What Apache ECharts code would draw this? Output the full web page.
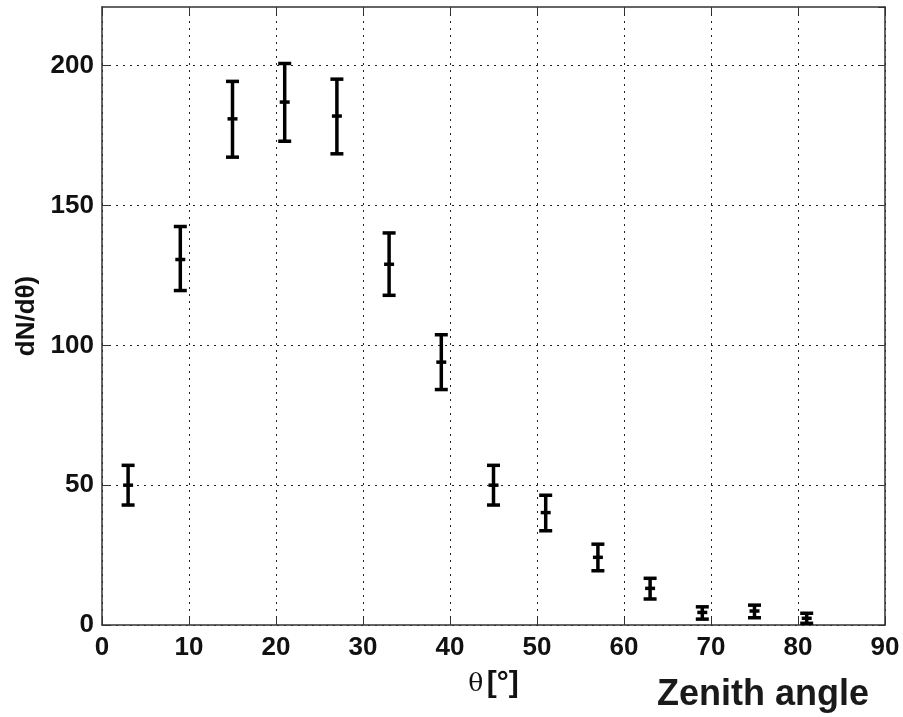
<!DOCTYPE html>
<html>
<head>
<meta charset="utf-8">
<script src="https://cdn.jsdelivr.net/npm/echarts@6/dist/echarts.min.js"></script>
<style>
  html, body { margin: 0; padding: 0; background: #fff; }
  #chart { width: 903px; height: 717px; }
</style>
</head>
<body>
<div id="chart"></div>
<script>
// zenith angle bin centres [deg]
var theta = [3, 9, 15, 21, 27, 33, 39, 45, 51, 57, 63, 69, 75, 81];
// dN/dtheta central values and error bar ends
var center = [50, 130.7, 181, 187, 182, 129, 94, 50, 40.2, 24.2, 13.1, 4.5, 5.0, 2.4];
var lower  = [42.9, 119.6, 167.3, 173, 168.5, 117.9, 84.2, 42.9, 33.7, 19.4, 9.3, 2.1, 2.6, 0.6];
var upper  = [57.1, 142.5, 194.4, 200.8, 195.2, 140.2, 103.8, 57.1, 46.4, 28.9, 16.7, 6.5, 7.1, 4.2];
var yTicks = [0, 50, 100, 150, 200];

var data = theta.map(function (t, i) { return [t, lower[i], center[i], upper[i]]; });

var chart = echarts.init(document.getElementById('chart'));

var tickFont = { fontFamily: 'Liberation Sans, Arial, sans-serif', fontWeight: 'bold', fontSize: 26, color: '#111' };
var gridLine = { show: true, lineStyle: { color: '#222', type: [2, 5], width: 1 } };
var frame = { show: true, onZero: false, lineStyle: { color: '#333', width: 1.5 } };

function renderBar(params, api) {
  var x = api.value(0);
  var lo = api.coord([x, api.value(1)]);
  var mid = api.coord([x, api.value(2)]);
  var hi = api.coord([x, api.value(3)]);
  var cap = 6.5, ctr = 5;
  var st = { stroke: '#000', lineWidth: 3.5 };
  return {
    type: 'group',
    children: [
      { type: 'line', shape: { x1: hi[0], y1: hi[1], x2: lo[0], y2: lo[1] }, style: st },
      { type: 'line', shape: { x1: hi[0] - cap, y1: hi[1], x2: hi[0] + cap, y2: hi[1] }, style: st },
      { type: 'line', shape: { x1: lo[0] - cap, y1: lo[1], x2: lo[0] + cap, y2: lo[1] }, style: st },
      { type: 'line', shape: { x1: mid[0] - ctr, y1: mid[1], x2: mid[0] + ctr, y2: mid[1] }, style: st }
    ]
  };
}

chart.setOption({
  backgroundColor: '#fff',
  animation: false,
  grid: { left: 102, right: 18, top: 7, bottom: 92 },
  xAxis: [
    {
      type: 'value', min: 0, max: 90, interval: 10,
      name: '{t|θ} {b|[°]}',
      nameLocation: 'middle', nameGap: 44,
      nameTextStyle: {
        rich: {
          t: { fontFamily: 'DejaVu Serif, Liberation Serif, serif', fontSize: 25, color: '#111' },
          b: { fontFamily: 'Liberation Sans, Arial, sans-serif', fontWeight: 'bold', fontSize: 30, color: '#111' }
        }
      },
      axisLine: frame,
      axisTick: { show: true, inside: true, length: 7, lineStyle: { color: '#333' } },
      axisLabel: Object.assign({ margin: 10 }, tickFont),
      splitLine: gridLine
    },
    {
      type: 'value', min: 0, max: 90, interval: 10, position: 'top',
      axisLine: frame,
      axisTick: { show: true, inside: true, length: 7, lineStyle: { color: '#333' } },
      axisLabel: { show: false },
      splitLine: { show: false }
    }
  ],
  yAxis: [
    {
      type: 'value', min: 0, max: 221, interval: 50,
      name: 'dN/dθ)',
      nameLocation: 'middle', nameGap: 62,
      nameTextStyle: { fontFamily: 'Liberation Sans, Arial, sans-serif', fontWeight: 'bold', fontSize: 26, color: '#111' },
      axisLine: frame,
      axisTick: { show: true, inside: true, length: 7, customValues: yTicks, lineStyle: { color: '#333' } },
      axisLabel: Object.assign({ margin: 8, customValues: yTicks }, tickFont),
      splitLine: gridLine
    },
    {
      type: 'value', min: 0, max: 221, interval: 50, position: 'right',
      axisLine: frame,
      axisTick: { show: true, inside: true, length: 7, lineStyle: { color: '#333' } },
      axisLabel: { show: false },
      splitLine: { show: false }
    }
  ],
  graphic: [
    {
      type: 'text', left: 657, top: 677,
      style: { text: 'Zenith angle', fontFamily: 'Liberation Sans, Arial, sans-serif', fontWeight: 'bold', fontSize: 36, fill: '#1a1a1a' }
    }
  ],
  series: [
    {
      type: 'custom',
      renderItem: renderBar,
      encode: { x: 0, y: [1, 2, 3] },
      data: data,
      z: 10
    }
  ]
});
</script>
</body>
</html>
